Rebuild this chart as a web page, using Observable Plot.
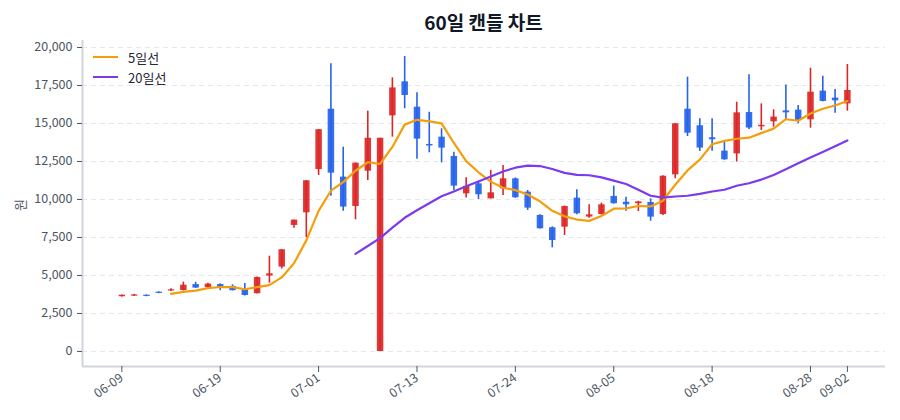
<!DOCTYPE html>
<html>
<head>
<meta charset="utf-8">
<script src="https://cdn.jsdelivr.net/npm/d3@7"></script>
<script src="https://cdn.jsdelivr.net/npm/@observablehq/plot@0.6"></script>
<style>
  html, body { margin: 0; padding: 0; background: #fff; }
  #wrap { position: relative; width: 900px; height: 420px; font-family: 'Noto Sans CJK KR', 'Noto Sans', sans-serif; }
  #title { position: absolute; left: 82px; width: 803px; top: 9px; text-align: center; font-size: 19px; font-weight: 700; line-height: 26px; color: #111827; }
  #chart { position: absolute; left: 0; top: 34px; }
  #legend { position: absolute; left: 93px; top: 47px; font-size: 13px; color: #1f2937; }
  #ylab { position: absolute; left: 11px; top: 196px; width: 18px; height: 18px; line-height: 18px; text-align: center; font-size: 13px; color: #4b5563; transform: rotate(-90deg); }
  .item { display: flex; align-items: center; height: 20px; }
  .sw { width: 25px; height: 2.5px; margin-right: 10px; }
</style>
</head>
<body>
<div id="wrap">
  <div id="title">60일 캔들 차트</div>
  <div id="chart"></div>
  <div id="ylab">원</div>
  <div id="legend">
    <div class="item"><div class="sw" style="background:#f59e0b"></div><span>5일선</span></div>
    <div class="item"><div class="sw" style="background:#7c3aed"></div><span>20일선</span></div>
  </div>
</div>
<script>
const dates = ["06-09","06-10","06-11","06-12","06-13","06-16","06-17","06-18","06-19","06-20",
  "06-23","06-24","06-25","06-26","06-27","06-30","07-01","07-02","07-03","07-04",
  "07-07","07-08","07-09","07-11","07-13","07-14","07-15","07-16","07-17","07-18",
  "07-21","07-22","07-24","07-25","07-28","07-29","07-30","07-31","08-01","08-04",
  "08-05","08-06","08-07","08-08","08-11","08-12","08-13","08-14","08-18","08-19",
  "08-20","08-21","08-22","08-25","08-26","08-27","08-28","08-29","09-01","09-02"];
const opens = [3600,3640,3700,3900,3980,4010,4400,4210,4400,4280,4060,3800,4960,5550,8290,9120,11970,15940,11470,9540,
  11860,0,15500,17740,16070,13620,14100,12830,10370,11030,10040,10700,11360,10480,8950,8140,8180,10090,8840,9010,
  10200,9820,9720,9800,9010,11620,15940,14850,14060,13180,13000,15720,14780,15110,15830,15880,15240,17130,16670,16290];
const closes = [3700,3720,3620,3820,4060,4360,4170,4430,4180,4000,3680,4870,5110,6690,8640,11230,14590,11730,9500,12390,
  14030,14030,17340,16840,13970,13520,13380,10880,10860,10310,10440,11360,10110,9430,8070,7300,9540,9060,8990,9650,
  9720,9650,9840,8840,11530,14980,14360,13380,13930,12610,15700,14700,14880,15420,15700,15200,17060,16450,16490,17170];
const highs = [3720,3740,3720,3920,4120,4560,4550,4480,4450,4380,4470,4900,6270,6700,8650,11250,14600,18930,13440,12400,
  15810,14030,18000,19410,17020,15740,14650,13110,11430,11200,11910,12240,11420,10590,9000,8200,9560,10640,9650,9760,
  10880,10150,9880,10040,11560,15000,18050,15310,15310,13840,16400,18200,16290,15900,17540,16180,18640,18110,17240,18880];
const lows = [3580,3620,3600,3800,3950,3980,4150,4180,4000,3980,3650,3780,4490,5420,8110,7480,11580,10220,9230,8660,
  11250,0,14100,15970,12650,13070,12410,10590,10090,10000,10040,10260,10080,9280,8050,6820,7630,9000,8770,8980,
  9700,9230,9210,8570,8950,11360,14140,13160,13180,12580,12460,14600,14540,14760,15260,14980,14690,16420,15680,15810];
const yTicks = [0,2500,5000,7500,10000,12500,15000,17500,20000];
const xTickIdx = [0,8,16,24,32,40,48,56,59];

const UP = "#dc2626", DOWN = "#2563eb";
const candles = dates.map((d, i) => ({i, date: d, open: opens[i], close: closes[i], high: highs[i], low: lows[i]}));
const ma = (n) => candles.filter(c => c.i >= n - 1).map(c => ({i: c.i, v: d3.mean(closes.slice(c.i - n + 1, c.i + 1))}));
const ma5 = ma(5), ma20 = ma(20);
const color = c => c.close >= c.open ? UP : DOWN;

const xDom = [-3.2, 62.1], yDom = [-990, 20460];
const chart = Plot.plot({
  width: 900, height: 386,
  marginLeft: 82, marginRight: 15, marginTop: 6, marginBottom: 54,
  style: {fontFamily: "'Noto Sans CJK KR', 'Noto Sans', sans-serif", fontSize: "12px", color: "#4b5563", background: "white"},
  x: {type: "linear", domain: xDom, axis: null},
  y: {domain: yDom, axis: null},
  marks: [
    Plot.gridY(yTicks, {stroke: "#e5e7eb", strokeOpacity: 1, strokeDasharray: "5,4", strokeWidth: 1}),
    Plot.ruleX([xDom[0]], {stroke: "#d1d5db", strokeWidth: 2}),
    Plot.ruleY([yDom[0]], {stroke: "#d1d5db", strokeWidth: 2}),
    Plot.axisY(yTicks, {tickFormat: d3.format(","), tickSize: 5, tickPadding: 5, stroke: "#4b5563", fill: "#4b5563",
      fontSize: 12.5, label: null}),
    Plot.axisX(xTickIdx, {tickFormat: i => dates[i], tickRotate: -35, tickSize: 6, tickPadding: 4,
      stroke: "#4b5563", fill: "#4b5563", fontSize: 12.5, label: null}),
    Plot.ruleX(candles, {x: "i", y1: "low", y2: "high", stroke: color, strokeWidth: 1.6}),
    Plot.ruleX(candles, {x: "i", y1: "open", y2: "close", stroke: color, strokeWidth: 6.5, strokeOpacity: 0.92}),
    Plot.line(ma5, {x: "i", y: "v", stroke: "#f59e0b", strokeWidth: 2.2}),
    Plot.line(ma20, {x: "i", y: "v", stroke: "#7c3aed", strokeWidth: 2.2})
  ]
});
document.getElementById("chart").append(chart);
</script>
</body>
</html>
